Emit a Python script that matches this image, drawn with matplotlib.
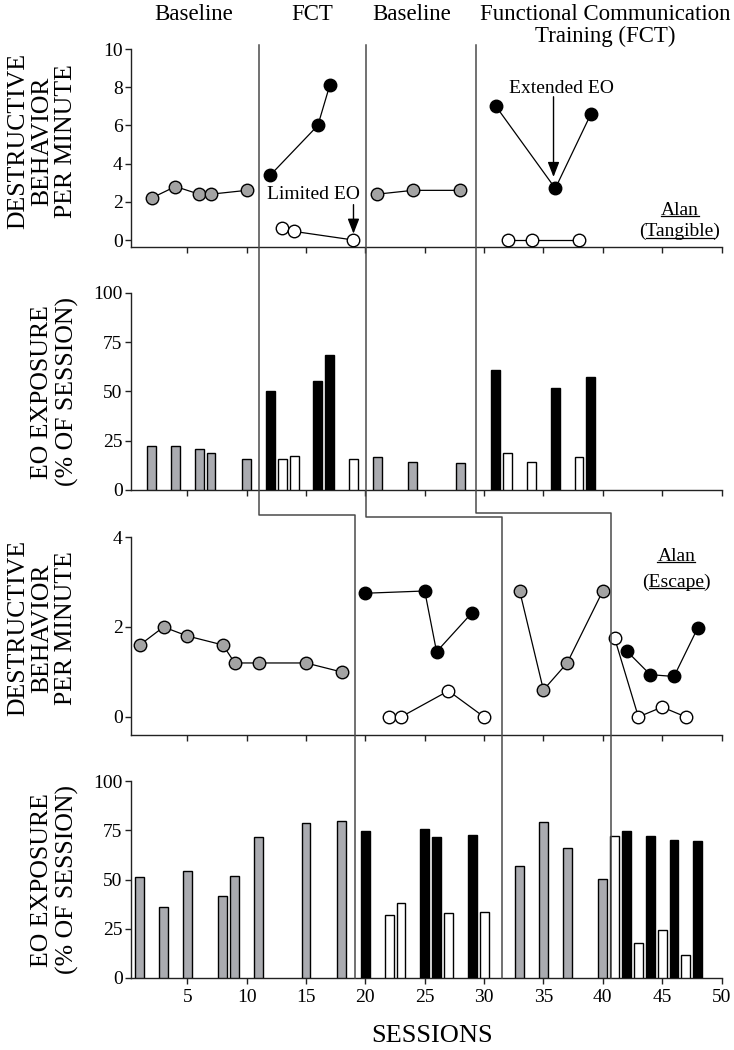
import matplotlib
matplotlib.use('Agg')
import matplotlib.pyplot as plt
from matplotlib.lines import Line2D

plt.rcParams['font.family'] = ['Liberation Serif', 'DejaVu Serif']

# ---------------- Data: Alan (Tangible) ----------------
tan_bl1_sess = [2, 4, 6, 7, 10]
tan_bl1_rate = [2.2, 2.8, 2.4, 2.4, 2.6]
tan_bl1_eo = [22.5, 22.4, 21.0, 18.6, 15.9]

tan_fct1_ext_sess = [12, 16, 17]
tan_fct1_ext_rate = [3.4, 6.0, 8.1]
tan_fct1_ext_eo = [50.2, 55.1, 68.3]
tan_fct1_lim_sess = [13, 14, 19]
tan_fct1_lim_rate = [0.65, 0.45, 0.0]
tan_fct1_lim_eo = [15.8, 17.3, 15.8]

tan_bl2_sess = [21, 24, 28]
tan_bl2_rate = [2.4, 2.6, 2.6]
tan_bl2_eo = [16.9, 14.4, 13.6]

tan_fct2_ext_sess = [31, 36, 39]
tan_fct2_ext_rate = [7.0, 2.7, 6.6]
tan_fct2_ext_eo = [60.8, 52.0, 57.5]
tan_fct2_lim_sess = [32, 34, 38]
tan_fct2_lim_rate = [0.0, 0.0, 0.0]
tan_fct2_lim_eo = [18.6, 14.1, 16.9]

# ---------------- Data: Alan (Escape) ----------------
esc_bl1_sess = [1, 3, 5, 8, 9, 11, 15, 18]
esc_bl1_rate = [1.6, 2.0, 1.8, 1.6, 1.2, 1.2, 1.2, 1.0]
esc_bl1_eo = [51.4, 35.9, 54.1, 41.6, 51.6, 71.7, 78.8, 79.8]

esc_fct1_ext_sess = [20, 25, 26, 29]
esc_fct1_ext_rate = [2.75, 2.8, 1.45, 2.32]
esc_fct1_ext_eo = [74.5, 75.4, 71.7, 72.5]
esc_fct1_lim_sess = [22, 23, 27, 30]
esc_fct1_lim_rate = [0.0, 0.0, 0.58, 0.0]
esc_fct1_lim_eo = [31.9, 38.1, 33.1, 33.6]

esc_bl2_sess = [33, 35, 37, 40]
esc_bl2_rate = [2.8, 0.6, 1.2, 2.8]
esc_bl2_eo = [56.8, 79.3, 66.1, 50.4]

esc_fct2_ext_sess = [42, 44, 46, 48]
esc_fct2_ext_rate = [1.47, 0.94, 0.9, 1.98]
esc_fct2_ext_eo = [74.7, 72.0, 69.8, 69.3]
esc_fct2_lim_sess = [41, 43, 45, 47]
esc_fct2_lim_rate = [1.75, 0.0, 0.22, 0.0]
esc_fct2_lim_eo = [72.3, 18.0, 24.6, 11.6]

# Phase-change lines (session positions)
phase_top = [11.0, 20.05, 29.3]
phase_bottom = [19.1, 31.55, 40.65]

phase_titles = ['Baseline', 'FCT', 'Baseline',
                'Functional Communication\nTraining (FCT)']
x_ticks = [5, 10, 15, 20, 25, 30, 35, 40, 45, 50]

# ---------------- Styles ----------------
GRAY_PT = '#a3a3a3'
GRAY_BAR = '#aaabb0'
LINE_C = '#4a4a4a'
FS_TICK = 14
BAR_W = 0.75

W_PX, H_PX = 734, 1050
fig = plt.figure(figsize=(W_PX / 100, H_PX / 100), dpi=100)

XL = (0.25, 50)
left = 130.9 / W_PX
width = (721.5 - 130.9) / W_PX


def make_ax(top_px, bot_px):
    return fig.add_axes([left, 1 - bot_px / H_PX, width, (bot_px - top_px) / H_PX])


ax1 = make_ax(49, 247)
ax2 = make_ax(293, 490)
ax3 = make_ax(537, 734.5)
ax4 = make_ax(781, 978)

for ax in (ax1, ax2, ax3, ax4):
    ax.set_xlim(*XL)
    for s in ('top', 'right'):
        ax.spines[s].set_visible(False)
    for s in ('left', 'bottom'):
        ax.spines[s].set_linewidth(1.0)
        ax.spines[s].set_color('#222222')
    ax.set_xticks(x_ticks)
    ax.tick_params(direction='out', length=4, width=1, labelsize=FS_TICK,
                   pad=2, color='#222222')
    ax.patch.set_visible(False)

for ax in (ax1, ax2, ax3):
    ax.set_xticklabels([])

ax1.set_ylim(-0.366, 10)
ax1.set_yticks([0, 2, 4, 6, 8, 10])
ax2.set_ylim(0, 100)
ax2.set_yticks([0, 25, 50, 75, 100])
ax3.set_ylim(-0.39, 4)
ax3.set_yticks([0, 2, 4])
ax4.set_ylim(0, 100)
ax4.set_yticks([0, 25, 50, 75, 100])
ax4.tick_params(axis='x', pad=4)


def series(ax, x, y, fc):
    ax.plot(x, y, '-', color='black', lw=0.9, marker='o', markersize=9,
            markerfacecolor=fc, markeredgecolor='black', markeredgewidth=1.0,
            clip_on=False, zorder=3)


def bars(ax, x, h, fc):
    ax.bar(x, h, width=BAR_W, color=fc, edgecolor='black', linewidth=1.0,
           zorder=3)


# Panel 1
series(ax1, tan_bl1_sess, tan_bl1_rate, GRAY_PT)
series(ax1, tan_fct1_ext_sess, tan_fct1_ext_rate, 'black')
series(ax1, tan_fct1_lim_sess, tan_fct1_lim_rate, 'white')
series(ax1, tan_bl2_sess, tan_bl2_rate, GRAY_PT)
series(ax1, tan_fct2_ext_sess, tan_fct2_ext_rate, 'black')
series(ax1, tan_fct2_lim_sess, tan_fct2_lim_rate, 'white')

# Panel 2
bars(ax2, tan_bl1_sess, tan_bl1_eo, GRAY_BAR)
bars(ax2, tan_fct1_ext_sess, tan_fct1_ext_eo, 'black')
bars(ax2, tan_fct1_lim_sess, tan_fct1_lim_eo, 'white')
bars(ax2, tan_bl2_sess, tan_bl2_eo, GRAY_BAR)
bars(ax2, tan_fct2_ext_sess, tan_fct2_ext_eo, 'black')
bars(ax2, tan_fct2_lim_sess, tan_fct2_lim_eo, 'white')

# Panel 3
series(ax3, esc_bl1_sess, esc_bl1_rate, GRAY_PT)
series(ax3, esc_fct1_ext_sess, esc_fct1_ext_rate, 'black')
series(ax3, esc_fct1_lim_sess, esc_fct1_lim_rate, 'white')
series(ax3, esc_bl2_sess, esc_bl2_rate, GRAY_PT)
series(ax3, esc_fct2_ext_sess, esc_fct2_ext_rate, 'black')
series(ax3, esc_fct2_lim_sess, esc_fct2_lim_rate, 'white')

# Panel 4
bars(ax4, esc_bl1_sess, esc_bl1_eo, GRAY_BAR)
bars(ax4, esc_fct1_ext_sess, esc_fct1_ext_eo, 'black')
bars(ax4, esc_fct1_lim_sess, esc_fct1_lim_eo, 'white')
bars(ax4, esc_bl2_sess, esc_bl2_eo, GRAY_BAR)
bars(ax4, esc_fct2_ext_sess, esc_fct2_ext_eo, 'black')
bars(ax4, esc_fct2_lim_sess, esc_fct2_lim_eo, 'white')

fig.text(432 / W_PX, 1 - 1036 / H_PX, 'SESSIONS', fontsize=19,
         ha='center', va='center')

# Annotations
arrow_kw = dict(arrowstyle='-|>,head_length=0.9,head_width=0.35',
                color='black', lw=1.0, shrinkA=0, shrinkB=0)
ax1.text(15.6, 2.4, 'Limited EO', fontsize=14, ha='center', va='center')
ax1.annotate('', xy=(19, 0.33), xytext=(19, 1.85), arrowprops=arrow_kw)
ax1.text(36.5, 7.95, 'Extended EO', fontsize=14, ha='center', va='center')
ax1.annotate('', xy=(35.85, 3.3), xytext=(35.85, 7.5), arrowprops=arrow_kw)

# Phase titles
title_x = [194, 312, 412, 605]
for tx, tt in zip(title_x, phase_titles):
    fig.text(tx / W_PX, 1 - 4 / H_PX, tt, fontsize=16.5, ha='center', va='top',
             linespacing=1.05)

# Y-axis labels
ylab_rate = 'DESTRUCTIVE\nBEHAVIOR\nPER MINUTE'
ylab_eo = 'EO EXPOSURE\n(% OF SESSION)'
lab_kw = dict(rotation=90, ha='center', va='center', multialignment='center',
              fontsize=18.5, linespacing=1.12)
fig.text(42 / W_PX, 1 - 141 / H_PX, ylab_rate, **lab_kw)
fig.text(55 / W_PX, 1 - 392 / H_PX, ylab_eo, **lab_kw)
fig.text(42 / W_PX, 1 - 628 / H_PX, ylab_rate, **lab_kw)
fig.text(55 / W_PX, 1 - 880 / H_PX, ylab_eo, **lab_kw)

# Participant labels
t_a1 = ax1.text(46.5, 1.55, 'Alan', fontsize=14, ha='center', va='center')
t_t1 = ax1.text(46.5, 0.44, '(Tangible)', fontsize=14, ha='center', va='center')
t_a3 = ax3.text(46.2, 3.57, 'Alan', fontsize=14, ha='center', va='center')
t_e3 = ax3.text(46.2, 3.0, '(Escape)', fontsize=14, ha='center', va='center')

fig.canvas.draw()
renderer = fig.canvas.get_renderer()
tmp = fig.text(0, 0, '(', fontsize=14)
w_open = tmp.get_window_extent(renderer).width
tmp.remove()
tmp = fig.text(0, 0, ')', fontsize=14)
w_close = tmp.get_window_extent(renderer).width
tmp.remove()
inv = fig.transFigure.inverted()


def underline(t, trim_l=0.0, trim_r=0.0):
    bb = t.get_window_extent(renderer)
    x0, x1 = bb.x0 + trim_l, bb.x1 - trim_r
    y = bb.y0 + 2.5
    (fx0, fy), (fx1, _) = inv.transform([(x0, y), (x1, y)])
    fig.add_artist(Line2D([fx0, fx1], [fy, fy], transform=fig.transFigure,
                          color='black', lw=0.9))


underline(t_a1)
underline(t_t1, w_open, w_close)
underline(t_a3)
underline(t_e3, w_open, w_close)


# Phase-change lines spanning panels
def fig_x(ax, xv):
    disp = ax.transData.transform((xv, 0))
    return inv.transform(disp)[0]


y_top = 1 - 45 / H_PX
y_mid = [1 - 515 / H_PX, 1 - 517.3 / H_PX, 1 - 512.7 / H_PX]
y_bot = 1 - 978 / H_PX
for xt, xb, ym in zip(phase_top, phase_bottom, y_mid):
    fxt = fig_x(ax1, xt)
    fxb = fig_x(ax4, xb)
    fig.add_artist(Line2D([fxt, fxt, fxb, fxb], [y_top, ym, ym, y_bot],
                          transform=fig.transFigure, color=LINE_C, lw=1.1,
                          zorder=5))

fig.savefig('out.png', dpi=100)
